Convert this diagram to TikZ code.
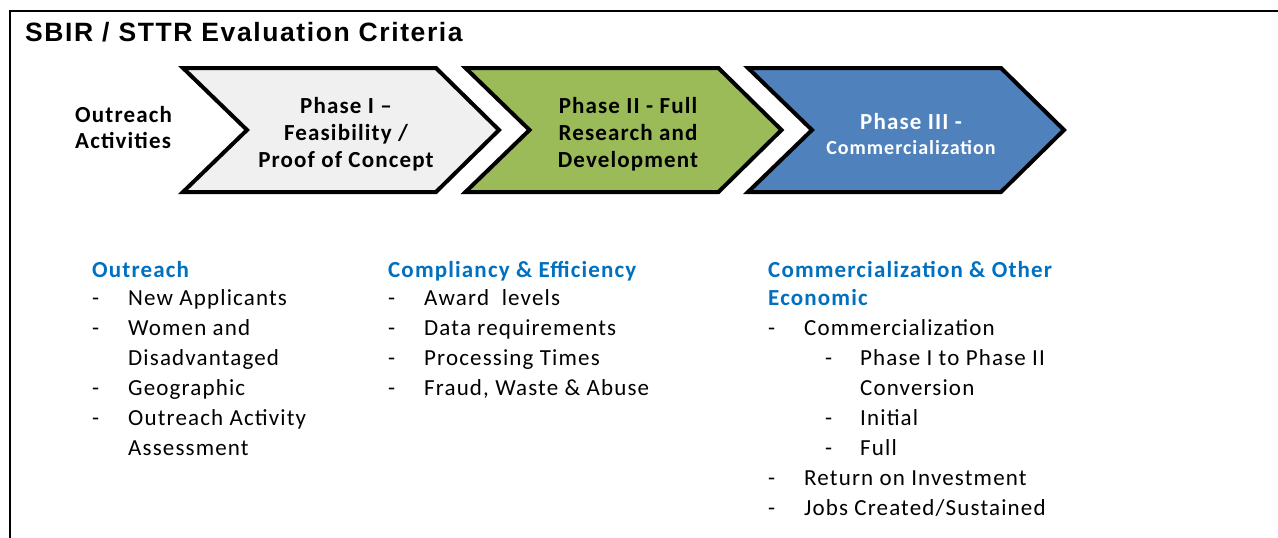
\documentclass[tikz,border=0pt]{standalone}
\usepackage{fontspec}
\setmainfont{Carlito}
\newfontfamily\titlefont{Liberation Sans}[LetterSpace=6]
\newfontfamily\bodyfont{Carlito}[LetterSpace=5]
\definecolor{phaseone}{HTML}{F0F0F0}
\definecolor{phasetwo}{HTML}{9BBB59}
\definecolor{phasethree}{HTML}{4F81BD}
\definecolor{headblue}{HTML}{0070C0}
\tikzset{
  chev/.style={draw=black, line width=4pt, line join=miter},
  chevtext/.style={align=center, font=\bodyfont\bfseries\fontsize{23}{27}\selectfont, inner sep=0pt},
  sidetext/.style={align=left, font=\bodyfont\bfseries\fontsize{23}{26}\selectfont, inner sep=0pt, anchor=west},
  head/.style={anchor=base west, inner sep=0pt, text=headblue, font=\bodyfont\bfseries\fontsize{23}{28}\selectfont},
  item/.style={anchor=base west, inner sep=0pt, font=\bodyfont\fontsize{23}{28}\selectfont},
  bullet/.style={anchor=base west, inner sep=0pt, font=\bodyfont\fontsize{23}{28}\selectfont}
}
\begin{document}
\begin{tikzpicture}[x=1pt,y=-1pt]
\useasboundingbox (0,0) rectangle (1278,538);
% frame lines
\draw[line width=2pt] (10,538) -- (10,11) -- (1278,11);
\node[anchor=base west, inner sep=0pt, font=\titlefont\bfseries\fontsize{26.5}{30}\selectfont] (title) at (25,41) {SBIR / STTR Evaluation Criteria};

% lead-in label
\node[sidetext] (outreachlbl) at (75,128) {Outreach\\Activities};

% phase chevrons
\draw[chev, fill=phaseone] (183,68) -- ++(253,0) -- ++(63,62) -- ++(-63,62) -- ++(-253,0) -- ++(64,-62) -- cycle;
\draw[chev, fill=phasetwo] (465.5,68) -- ++(253,0) -- ++(63,62) -- ++(-63,62) -- ++(-253,0) -- ++(64,-62) -- cycle;
\draw[chev, fill=phasethree] (748,68) -- ++(253,0) -- ++(63,62) -- ++(-63,62) -- ++(-253,0) -- ++(64,-62) -- cycle;

\node[chevtext] (ph1) at (346,134) {Phase I \textendash\\Feasibility /\\Proof of Concept};
\node[chevtext] (ph2) at (628,134) {Phase II - Full\\Research and\\Development};
\node[chevtext, text=white] (ph3) at (911,134) {Phase III -\\[-2pt]{\fontsize{20}{25}\selectfont Commercialization}};

% criteria: outreach
\node[head] (h1) at (92,277) {Outreach};
\foreach \y [count=\i] in {305,335,395,425}
  \node[bullet] (d1\i) at (92,\y) {-};
\node[item] (a1) at (128,305) {New Applicants};
\node[item] (a2) at (128,335) {Women and};
\node[item] (a3) at (128,365) {Disadvantaged};
\node[item] (a4) at (128,395) {Geographic};
\node[item] (a5) at (128,425) {Outreach Activity};
\node[item] (a6) at (128,455) {Assessment};

% criteria: compliancy
\node[head] (h2) at (388,277) {Compliancy \& Efficiency};
\foreach \y [count=\i] in {305,335,365,395}
  \node[bullet] (d2\i) at (388,\y) {-};
\node[item] (b1) at (424,305) {Award\ \ levels};
\node[item] (b2) at (424,335) {Data requirements};
\node[item] (b3) at (424,365) {Processing Times};
\node[item] (b4) at (424,395) {Fraud, Waste \& Abuse};

% criteria: commercialization
\node[head] (h3) at (768,277) {Commercialization \& Other};
\node[head] (h3b) at (768,305) {Economic};
\foreach \y [count=\i] in {335,485,515}
  \node[bullet] (d3\i) at (768,\y) {-};
\foreach \y [count=\i] in {365,425,455}
  \node[bullet] (e3\i) at (825,\y) {-};
\node[item] (c1) at (804,335) {Commercialization};
\node[item] (c2) at (860,365) {Phase I to Phase II};
\node[item] (c3) at (860,395) {Conversion};
\node[item] (c4) at (860,425) {Initial};
\node[item] (c5) at (860,455) {Full};
\node[item] (c6) at (804,485) {Return on Investment};
\node[item] (c7) at (804,515) {Jobs Created/Sustained};
\end{tikzpicture}
\end{document}
